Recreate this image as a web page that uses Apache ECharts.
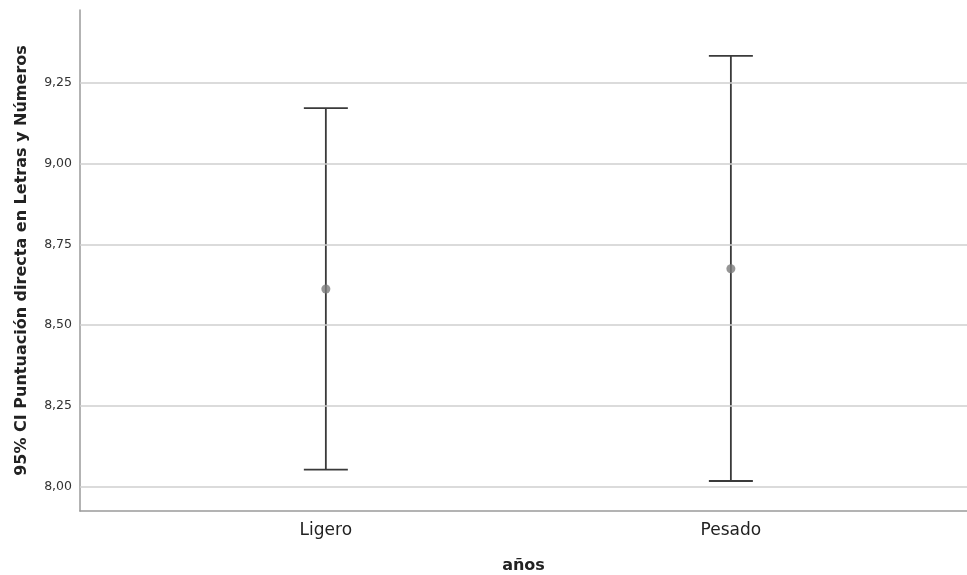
<!DOCTYPE html>
<html>
<head>
<meta charset="utf-8">
<script src="https://cdn.jsdelivr.net/npm/echarts@6/dist/echarts.min.js"></script>
<style>html,body{margin:0;padding:0;background:#fff}#c{width:967px;height:575px}</style>
</head>
<body>
<div id="c"></div>
<script>
const categories = ['Ligero', 'Pesado'];
const means = [8.612, 8.675];
const lower = [8.052, 8.017];
const upper = [9.173, 9.335];
const yTicks = [8.00, 8.25, 8.50, 8.75, 9.00, 9.25];
const yTitle = '95% CI Puntuación directa en Letras y Números';
const xTitle = 'años';

const catPos = categories.map((c, i) => i + 1);
const fmt = v => v.toFixed(2).replace('.', ',');

const chart = echarts.init(document.getElementById('c'));
chart.setOption({
  animation: false,
  backgroundColor: '#fff',
  grid: { left: 80, right: 0, top: 10, bottom: 64, containLabel: false, outerBoundsMode: 'none' },
  xAxis: {
    type: 'value',
    min: 0.393, max: 2.583,
    name: xTitle,
    nameLocation: 'middle',
    nameGap: 47,
    nameTextStyle: { fontFamily: 'DejaVu Sans', fontWeight: 'bold', fontSize: 16, color: '#222' },
    axisLine: { show: true, lineStyle: { color: '#9a9a9a', width: 1.5 } },
    axisTick: { show: false },
    splitLine: { show: false },
    axisLabel: {
      customValues: catPos,
      formatter: v => categories[Math.round(v) - 1] || '',
      fontFamily: 'DejaVu Sans', fontSize: 17, color: '#222', margin: 11
    }
  },
  yAxis: {
    type: 'value',
    min: 7.924, max: 9.477,
    name: yTitle,
    nameLocation: 'middle',
    nameGap: 50,
    nameTextStyle: { fontFamily: 'DejaVu Sans', fontWeight: 'bold', fontSize: 16, color: '#222' },
    axisLine: { show: true, lineStyle: { color: '#9a9a9a', width: 1.5 } },
    axisTick: { show: false },
    splitLine: { show: false },
    axisLabel: {
      customValues: yTicks,
      formatter: v => fmt(v),
      fontFamily: 'DejaVu Sans', fontSize: 12.5, color: '#333', margin: 8
    }
  },
  series: [
    {
      type: 'line',
      data: [],
      silent: true,
      markLine: {
        silent: true,
        symbol: 'none',
        label: { show: false },
        lineStyle: { color: '#cfcfcf', width: 1.5, type: 'solid' },
        data: yTicks.map(t => ({ yAxis: t }))
      }
    },
    {
      type: 'custom',
      data: catPos.map((x, i) => [x, lower[i], upper[i]]),
      renderItem: (params, api) => {
        const x = api.value(0);
        const lo = api.coord([x, api.value(1)]);
        const hi = api.coord([x, api.value(2)]);
        const cap = 22;
        const style = { stroke: '#3a3a3a', lineWidth: 1.8 };
        return {
          type: 'group',
          children: [
            { type: 'line', shape: { x1: lo[0], y1: lo[1], x2: hi[0], y2: hi[1] }, style },
            { type: 'line', shape: { x1: lo[0] - cap, y1: lo[1], x2: lo[0] + cap, y2: lo[1] }, style },
            { type: 'line', shape: { x1: hi[0] - cap, y1: hi[1], x2: hi[0] + cap, y2: hi[1] }, style }
          ]
        };
      },
      z: 3
    },
    {
      type: 'scatter',
      data: catPos.map((x, i) => [x, means[i]]),
      symbol: 'circle',
      symbolSize: 9,
      itemStyle: { color: '#7a7a7a' },
      z: 4
    }
  ]
});
</script>
</body>
</html>
